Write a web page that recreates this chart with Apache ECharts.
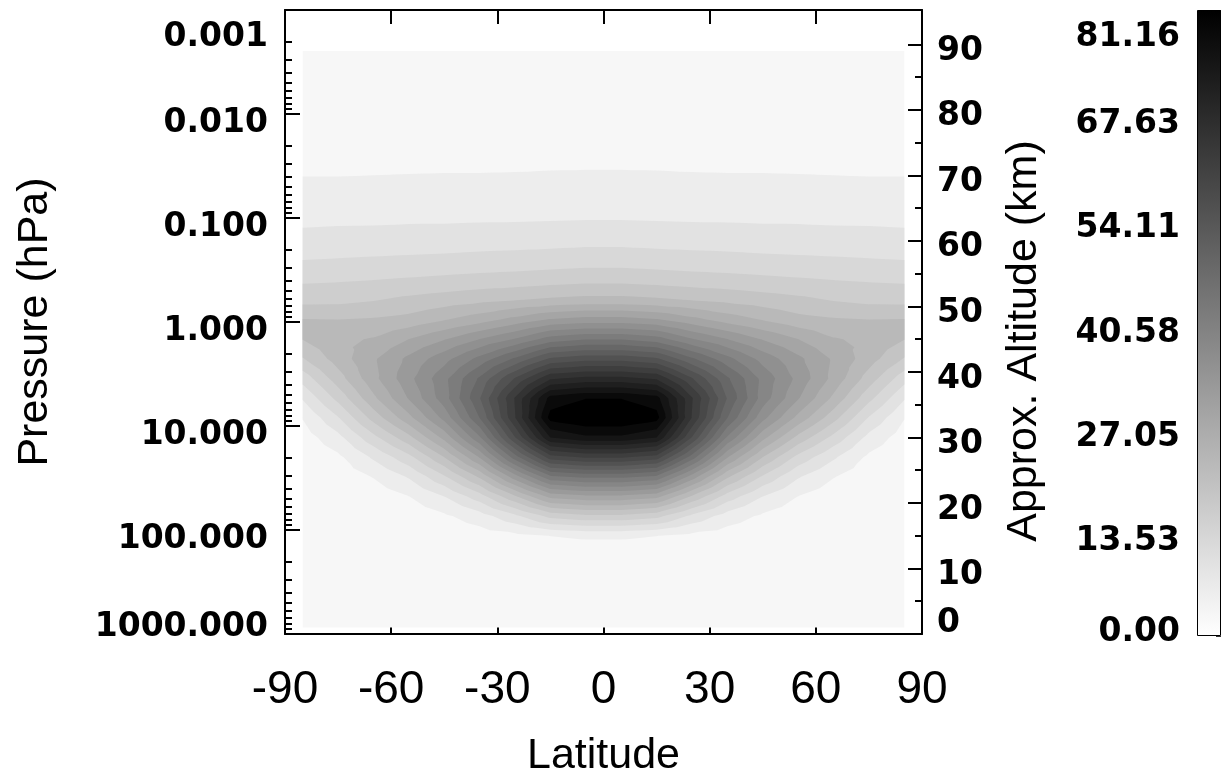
<!DOCTYPE html>
<html>
<head>
<meta charset="utf-8">
<script src="https://cdn.jsdelivr.net/npm/echarts@6/dist/echarts.min.js"></script>
<style>
  html, body { margin: 0; padding: 0; background: #ffffff; }
  #chart { width: 1224px; height: 783px; }
</style>
</head>
<body>
<div id="chart"></div>
<script>
// Grid columns: latitude (degrees)
const latitudes = [-85, -75, -65, -55, -45, -35, -25, -15, -5, 5, 15, 25, 35, 45, 55, 65, 75, 85];
// Grid rows: approximate altitude (km)
const altitudes = [1, 5, 9, 12, 15, 18, 21, 24, 27, 30, 33, 36, 39, 42, 45, 48, 51, 54, 57, 60, 64, 68, 72, 78, 84, 89];
// Field values, one row per altitude, one entry per latitude
const field = [
  [0.1, 0.1, 0.1, 0.1, 0.1, 0.1, 0.1, 0.1, 0.1, 0.1, 0.1, 0.1, 0.1, 0.1, 0.1, 0.1, 0.1, 0.1],
  [0.1, 0.1, 0.1, 0.1, 0.1, 0.1, 0.1, 0.1, 0.1, 0.1, 0.1, 0.1, 0.1, 0.1, 0.1, 0.1, 0.1, 0.1],
  [0.1, 0.1, 0.1, 0.1, 0.1, 0.1, 0.2, 0.2, 0.3, 0.3, 0.2, 0.2, 0.1, 0.1, 0.1, 0.1, 0.1, 0.1],
  [0.1, 0.1, 0.1, 0.1, 0.2, 0.4, 0.6, 0.8, 0.9, 0.9, 0.8, 0.6, 0.4, 0.2, 0.1, 0.1, 0.1, 0.1],
  [0.1, 0.1, 0.2, 0.4, 0.9, 1.6, 2.4, 3.3, 3.8, 3.8, 3.3, 2.4, 1.6, 0.9, 0.4, 0.2, 0.1, 0.1],
  [0.1, 0.1, 0.5, 1.2, 2.7, 5.0, 9.0, 14.0, 15.5, 15.5, 14.0, 9.0, 5.0, 2.7, 1.2, 0.5, 0.1, 0.1],
  [0.1, 0.4, 1.4, 3.2, 6.5, 11.5, 19.0, 27.0, 28.5, 28.5, 27.0, 19.0, 11.5, 6.5, 3.2, 1.4, 0.4, 0.1],
  [0.2, 1.2, 3.4, 6.8, 12.5, 20.0, 31.0, 41.5, 43.0, 43.0, 41.5, 31.0, 20.0, 12.5, 6.8, 3.4, 1.2, 0.2],
  [0.6, 2.6, 7.0, 12.0, 19.5, 29.5, 44.0, 57.0, 59.0, 59.0, 57.0, 44.0, 29.5, 19.5, 12.0, 7.0, 2.6, 0.6],
  [1.6, 5.5, 12.0, 18.5, 27.0, 38.5, 55.0, 71.5, 74.0, 74.0, 71.5, 55.0, 38.5, 27.0, 18.5, 12.0, 5.5, 1.6],
  [3.4, 9.5, 17.5, 25.0, 33.5, 45.5, 61.5, 79.2, 81.1, 81.1, 79.2, 61.5, 45.5, 33.5, 25.0, 17.5, 9.5, 3.4],
  [6.8, 14.0, 22.0, 29.5, 37.5, 48.5, 62.0, 76.0, 77.8, 77.8, 76.0, 62.0, 48.5, 37.5, 29.5, 22.0, 14.0, 6.8],
  [11.0, 18.0, 25.0, 31.5, 38.0, 46.0, 55.5, 64.5, 66.0, 66.0, 64.5, 55.5, 46.0, 38.0, 31.5, 25.0, 18.0, 11.0],
  [16.0, 21.0, 25.5, 30.0, 34.5, 40.0, 46.0, 52.5, 54.0, 54.0, 52.5, 46.0, 40.0, 34.5, 30.0, 25.5, 21.0, 16.0],
  [19.6, 22.0, 23.0, 26.0, 29.0, 32.5, 36.0, 40.5, 42.0, 42.0, 40.5, 36.0, 32.5, 29.0, 26.0, 23.0, 22.0, 19.6],
  [19.6, 19.5, 19.8, 20.5, 22.5, 24.5, 27.0, 29.5, 30.5, 30.5, 29.5, 27.0, 24.5, 22.5, 20.5, 19.8, 19.5, 19.6],
  [15.2, 15.3, 16.0, 17.0, 17.8, 18.6, 19.3, 20.0, 20.5, 20.5, 20.0, 19.3, 18.6, 17.8, 17.0, 16.0, 15.3, 15.2],
  [12.5, 12.7, 13.0, 13.4, 13.8, 14.2, 14.5, 15.0, 15.4, 15.4, 15.0, 14.5, 14.2, 13.8, 13.4, 13.0, 12.7, 12.5],
  [9.8, 10.0, 10.2, 10.4, 10.6, 10.9, 11.1, 11.3, 11.6, 11.6, 11.3, 11.1, 10.9, 10.6, 10.4, 10.2, 10.0, 9.8],
  [7.6, 7.8, 7.9, 8.1, 8.2, 8.4, 8.5, 8.7, 8.9, 8.9, 8.7, 8.5, 8.4, 8.2, 8.1, 7.9, 7.8, 7.6],
  [5.4, 5.5, 5.5, 5.6, 5.6, 5.7, 5.7, 5.8, 5.9, 5.9, 5.8, 5.7, 5.7, 5.6, 5.6, 5.5, 5.5, 5.4],
  [3.7, 3.7, 3.8, 3.8, 3.9, 3.9, 4.0, 4.0, 4.1, 4.1, 4.0, 4.0, 3.9, 3.9, 3.8, 3.8, 3.7, 3.7],
  [2.7, 2.7, 2.7, 2.8, 2.8, 2.8, 2.8, 2.9, 2.9, 2.9, 2.9, 2.8, 2.8, 2.8, 2.8, 2.7, 2.7, 2.7],
  [1.7, 1.7, 1.7, 1.7, 1.7, 1.8, 1.8, 1.8, 1.8, 1.8, 1.8, 1.8, 1.8, 1.7, 1.7, 1.7, 1.7, 1.7],
  [1.0, 1.0, 1.0, 1.0, 1.1, 1.1, 1.1, 1.1, 1.1, 1.1, 1.1, 1.1, 1.1, 1.1, 1.0, 1.0, 1.0, 1.0],
  [0.7, 0.7, 0.7, 0.7, 0.7, 0.7, 0.7, 0.7, 0.7, 0.7, 0.7, 0.7, 0.7, 0.7, 0.7, 0.7, 0.7, 0.7]
];

// Colour scale range and number of filled contour bands
const vmax = 81.16;
const nLevels = 25;
const levels = Array.from({ length: nLevels }, (_, k) => k * vmax / nLevels);

// Pressure axis: decades from 0.001 to 1000 hPa, plotted as log10(p)
const pressureExpMin = -3;
const pressureExpMax = 3;
const pressureMinorExps = [];
for (let e = pressureExpMin; e < pressureExpMax; e++) {
  for (let m = 2; m <= 9; m++) pressureMinorExps.push(e + Math.log10(m));
}
// Altitude axis shares the pressure span through a fixed scale height
const scaleHeight = 6.894;
const altitudeTop = scaleHeight * Math.log(Math.pow(10, pressureExpMax - pressureExpMin));
const altitudeMinorTicks = [5, 15, 25, 35, 45, 55, 65, 75, 85];

function bandColor(k) {
  const g = Math.round(247 * (1 - k / (nLevels - 1)));
  return 'rgb(' + g + ',' + g + ',' + g + ')';
}

// Part of a triangle where the field is at or above threshold t
function clipTriangle(tri, t) {
  const out = [];
  for (let i = 0; i < 3; i++) {
    const p = tri[i], q = tri[(i + 1) % 3];
    const pin = p.v >= t, qin = q.v >= t;
    if (pin) out.push(p);
    if (pin !== qin) {
      const f = (t - p.v) / (q.v - p.v);
      out.push({ x: p.x + f * (q.x - p.x), y: p.y + f * (q.y - p.y), v: t });
    }
  }
  return out;
}

// One filled region per contour level, painted from the lowest level upward
function renderBand(params, api) {
  const k = params.dataIndex;
  const t = levels[k];
  const nodes = altitudes.map((z, i) => latitudes.map((lat, j) => {
    const c = api.coord([lat, z]);
    return { x: c[0], y: c[1], v: field[i][j] };
  }));
  let d = '';
  for (let i = 0; i < altitudes.length - 1; i++) {
    for (let j = 0; j < latitudes.length - 1; j++) {
      const a = nodes[i][j], b = nodes[i][j + 1], c = nodes[i + 1][j + 1], e = nodes[i + 1][j];
      if (Math.max(a.v, b.v, c.v, e.v) < t) continue;
      const m = { x: (a.x + b.x + c.x + e.x) / 4, y: (a.y + b.y + c.y + e.y) / 4, v: (a.v + b.v + c.v + e.v) / 4 };
      const ring = [a, b, c, e];
      for (let s = 0; s < 4; s++) {
        const poly = clipTriangle([m, ring[s], ring[(s + 1) % 4]], t);
        if (poly.length < 3) continue;
        d += 'M' + poly[0].x.toFixed(2) + ' ' + poly[0].y.toFixed(2);
        for (let r = 1; r < poly.length; r++) d += 'L' + poly[r].x.toFixed(2) + ' ' + poly[r].y.toFixed(2);
        d += 'Z';
      }
    }
  }
  return { type: 'path', shape: { pathData: d }, style: { fill: bandColor(k), stroke: null }, silent: true };
}

const axisColor = '#000000';
const tickFont = { fontFamily: 'DejaVu Sans', fontWeight: 'bold', fontSize: 33, color: '#000000' };
const titleFont = { fontFamily: 'Liberation Sans', fontSize: 43, color: '#000000' };

// Label styles: end labels are pulled inside the frame, the rest sit slightly below their tick
function labelRich(midPad, topPad, bottomPad) {
  return {
    mid: Object.assign({ padding: [midPad, 0, 0, 0] }, tickFont),
    hi: Object.assign({ padding: [topPad, 0, 0, 0] }, tickFont),
    lo: Object.assign({ padding: [0, 0, bottomPad, 0] }, tickFont)
  };
}

const chart = echarts.init(document.getElementById('chart'), null, { renderer: 'canvas' });
chart.setOption({
  animation: false,
  backgroundColor: '#ffffff',
  grid: [
    { left: 285, top: 10, width: 637, height: 626 },
    { left: 1197, top: 10, width: 24, height: 626 }
  ],
  xAxis: [
    {
      gridIndex: 0, type: 'value', min: -90, max: 90, interval: 30, position: 'bottom',
      axisLine: { show: true, onZero: false, lineStyle: { color: axisColor, width: 2 } },
      axisTick: { show: true, inside: true, length: 14, lineStyle: { color: axisColor, width: 2 } },
      axisLabel: { margin: 33, fontFamily: 'Liberation Sans', fontSize: 46, color: '#000000' },
      splitLine: { show: false },
      name: 'Latitude', nameLocation: 'middle', nameGap: 101, nameTextStyle: titleFont
    },
    {
      gridIndex: 0, type: 'value', min: -90, max: 90, interval: 30, position: 'top',
      axisLine: { show: true, onZero: false, lineStyle: { color: axisColor, width: 2 } },
      axisTick: { show: true, inside: true, length: 14, lineStyle: { color: axisColor, width: 2 } },
      axisLabel: { show: false }, splitLine: { show: false }
    },
    { gridIndex: 1, type: 'category', data: [''], show: false }
  ],
  yAxis: [
    {
      gridIndex: 0, type: 'value', min: pressureExpMin, max: pressureExpMax, interval: 1, inverse: true, position: 'left',
      axisLine: { show: true, onZero: false, lineStyle: { color: axisColor, width: 2 } },
      axisTick: { show: true, inside: true, length: 15, lineStyle: { color: axisColor, width: 2 } },
      axisLabel: {
        margin: 17,
        formatter: e => {
          const s = Math.pow(10, e).toFixed(3);
          if (Math.abs(e - pressureExpMin) < 1e-9) return '{hi|' + s + '}';
          if (Math.abs(e - pressureExpMax) < 1e-9) return '{lo|' + s + '}';
          return '{mid|' + s + '}';
        },
        rich: labelRich(18, 54, 14)
      },
      splitLine: { show: false },
      name: 'Pressure (hPa)', nameLocation: 'middle', nameRotate: 90, nameGap: 228, nameTextStyle: titleFont
    },
    {
      gridIndex: 0, type: 'value', min: 0, max: altitudeTop, interval: 10, position: 'right',
      axisLine: { show: true, onZero: false, lineStyle: { color: axisColor, width: 2 } },
      axisTick: { show: true, inside: true, length: 14, lineStyle: { color: axisColor, width: 2 } },
      axisLabel: {
        margin: 15, showMaxLabel: false,
        formatter: v => {
          if (Math.abs(v - Math.round(v / 10) * 10) > 1e-6) return '';
          const s = String(Math.round(v));
          return v === 0 ? '{lo|' + s + '}' : '{mid|' + s + '}';
        },
        rich: labelRich(14, 14, 22)
      },
      splitLine: { show: false },
      name: 'Approx. Altitude (km)', nameLocation: 'middle', nameRotate: 90, nameGap: 81,
      nameTextStyle: Object.assign({ padding: [0, 38, 0, 0] }, titleFont)
    },
    {
      gridIndex: 0, type: 'value', min: pressureExpMin, max: pressureExpMax, inverse: true, position: 'left',
      axisLine: { show: false, onZero: false },
      axisTick: { show: true, inside: true, length: 7, customValues: pressureMinorExps, lineStyle: { color: axisColor, width: 2 } },
      axisLabel: { show: false }, splitLine: { show: false }
    },
    {
      gridIndex: 0, type: 'value', min: 0, max: altitudeTop, position: 'right',
      axisLine: { show: false, onZero: false },
      axisTick: { show: true, inside: true, length: 7, customValues: altitudeMinorTicks, lineStyle: { color: axisColor, width: 2 } },
      axisLabel: { show: false }, splitLine: { show: false }
    },
    {
      gridIndex: 1, type: 'value', min: 0, max: vmax, interval: vmax / 6, position: 'left',
      axisLine: { show: false, onZero: false }, axisTick: { show: false },
      axisLabel: {
        margin: 17,
        formatter: v => {
          const s = v.toFixed(2);
          if (v < 1e-6) return '{lo|' + s + '}';
          if (Math.abs(v - vmax) < 1e-3) return '{hi|' + s + '}';
          return '{mid|' + s + '}';
        },
        rich: labelRich(20, 54, 8)
      },
      splitLine: { show: false }
    },
    {
      gridIndex: 1, type: 'value', min: 0, max: vmax, interval: vmax / 12, position: 'right',
      axisLine: { show: false, onZero: false },
      axisTick: { show: true, inside: true, length: 5, lineStyle: { color: '#333333', width: 1 } },
      axisLabel: { show: false }, splitLine: { show: false }
    }
  ],
  series: [
    {
      type: 'custom', coordinateSystem: 'cartesian2d', xAxisIndex: 0, yAxisIndex: 1,
      data: levels.map(v => [0, v]),
      renderItem: renderBand, clip: true, silent: true, z: 1
    },
    {
      type: 'bar', xAxisIndex: 2, yAxisIndex: 4, data: [vmax], barWidth: '100%', silent: true,
      itemStyle: {
        borderColor: '#000000', borderWidth: 1,
        color: new echarts.graphic.LinearGradient(0, 1, 0, 0, [
          { offset: 0, color: '#ffffff' },
          { offset: 1, color: '#000000' }
        ])
      }
    }
  ]
});
</script>
</body>
</html>
